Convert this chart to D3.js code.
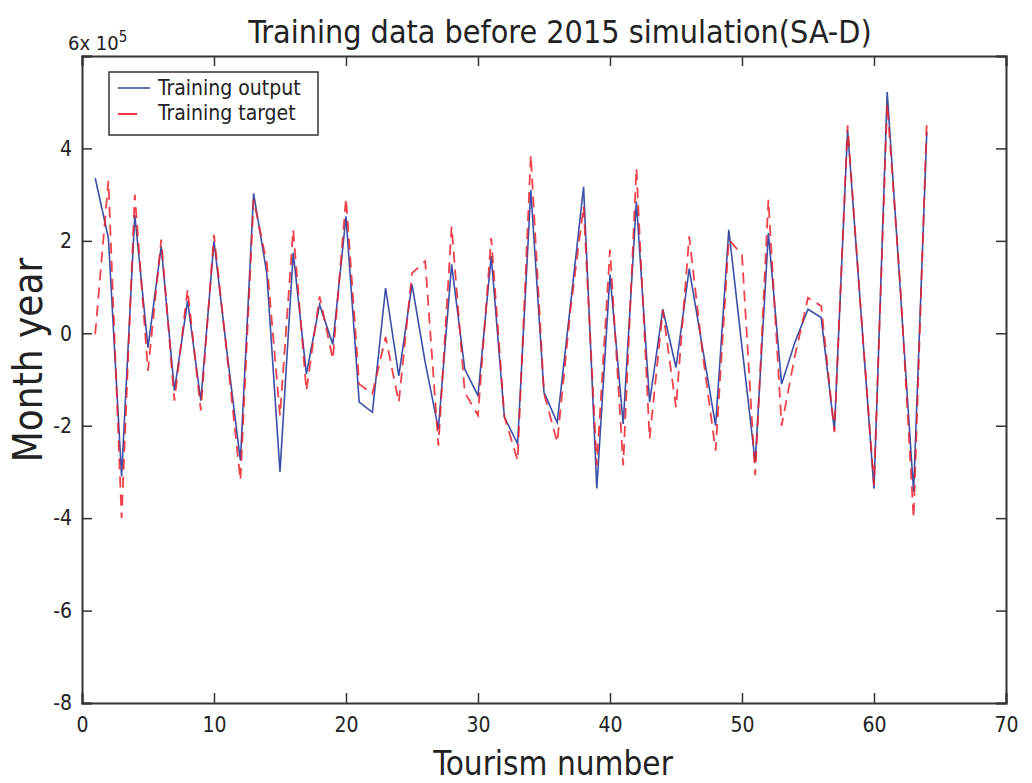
<!DOCTYPE html>
<html>
<head>
<meta charset="utf-8">
<script src="https://cdn.jsdelivr.net/npm/d3@7"></script>
<style>
  body { margin: 0; background: #fff; }
  svg text { font-family: "DejaVu Sans Condensed", "Liberation Sans Narrow", sans-serif; fill: #222; }
</style>
</head>
<body>
<script>
// Chart values (units of 10^5)
var sampleIndex = d3.range(1, 65);
var trainingOutput = [3.36, 2.06, -3.10, 2.56, -0.31, 1.88, -1.24, 0.70, -1.46, 1.99,
  -0.45, -2.75, 3.03, 1.30, -3.00, 1.74, -0.88, 0.62, -0.24, 2.53,
  -1.49, -1.71, 0.98, -0.92, 1.06, -0.63, -2.07, 1.49, -0.78, -1.35,
  1.67, -1.82, -2.39, 3.10, -1.28, -1.93, 0.60, 3.17, -3.36, 1.27,
  -1.96, 2.85, -1.49, 0.52, -0.74, 1.40, -0.30, -2.00, 2.24, -0.30,
  -2.79, 2.17, -1.10, -0.20, 0.52, 0.34, -2.10, 4.40, 0.50, -3.36,
  5.22, 0.90, -3.43, 4.36];
var trainingTarget = [-0.02, 3.30, -4.00, 3.00, -0.81, 2.03, -1.46, 0.95, -1.67, 2.13,
  -0.50, -3.18, 2.89, 1.52, -1.78, 2.24, -1.24, 0.80, -0.56, 2.92,
  -1.10, -1.31, -0.08, -1.49, 1.30, 1.56, -2.43, 2.31, -1.28, -1.78,
  2.06, -1.80, -2.75, 3.86, -1.30, -2.36, 0.50, 2.75, -2.86, 1.81,
  -2.86, 3.57, -2.28, 0.50, -1.60, 2.10, -0.40, -2.54, 2.03, 1.70,
  -3.07, 2.89, -2.00, -0.50, 0.77, 0.59, -2.14, 4.50, 0.50, -3.29,
  4.97, 1.00, -4.00, 4.60];
var xTicks = [0, 10, 20, 30, 40, 50, 60, 70];
var yTicks = [-8, -6, -4, -2, 0, 2, 4, 6];
var legendLabels = ["Training output", "Training target"];

var width = 1032, height = 783;
var margin = {left: 82, right: 26, top: 56, bottom: 80};

var svg = d3.select("body").append("svg")
    .attr("width", width)
    .attr("height", height);

var x = d3.scaleLinear().domain([0, 70]).range([margin.left, width - margin.right]);
var y = d3.scaleLinear().domain([-8, 6]).range([height - margin.bottom, margin.top]);

var tickLen = 10;

// Axes (ticks pointing inward, box style)
var bottomAxis = d3.axisBottom(x).tickValues(xTicks).tickSize(-tickLen).tickPadding(14).tickFormat(d3.format("d"));
var topAxis = d3.axisTop(x).tickValues(xTicks).tickSize(-tickLen).tickFormat("");
var leftAxis = d3.axisLeft(y).tickValues(yTicks).tickSize(-tickLen).tickPadding(10)
    .tickFormat(function(d) { return d === 6 ? "" : d; });
var rightAxis = d3.axisRight(y).tickValues(yTicks).tickSize(-tickLen).tickFormat("");

function styleAxis(g) {
  g.select(".domain").attr("stroke", "#333").attr("stroke-width", 2);
  g.selectAll(".tick line").attr("stroke", "#333").attr("stroke-width", 1.5);
  g.selectAll(".tick text").style("font-size", "21px").attr("fill", "#222");
}

svg.append("g").attr("transform", "translate(0," + y(-8) + ")").call(bottomAxis).call(styleAxis);
svg.append("g").attr("transform", "translate(0," + y(6) + ")").call(topAxis).call(styleAxis);
svg.append("g").attr("transform", "translate(" + x(0) + ",0)").call(leftAxis).call(styleAxis);
svg.append("g").attr("transform", "translate(" + x(70) + ",0)").call(rightAxis).call(styleAxis);

// Lines
var line = function(values) {
  return d3.line()
    .x(function(d, i) { return x(sampleIndex[i]); })
    .y(function(d) { return y(d); })(values);
};

svg.append("path")
    .attr("d", line(trainingOutput))
    .attr("fill", "none")
    .attr("stroke", "#3b4fa6")
    .attr("stroke-width", 1.6);

svg.append("path")
    .attr("d", line(trainingTarget))
    .attr("fill", "none")
    .attr("stroke", "#ec2029")
    .attr("stroke-opacity", 0.85)
    .attr("stroke-width", 1.8)
    .attr("stroke-dasharray", "11,7");

// Legend
var legend = svg.append("g");
legend.append("rect")
    .attr("x", 109).attr("y", 72)
    .attr("width", 209).attr("height", 63)
    .attr("fill", "#fff").attr("stroke", "#333").attr("stroke-width", 1.5);
legend.append("line")
    .attr("x1", 118).attr("x2", 150).attr("y1", 88).attr("y2", 88)
    .attr("stroke", "#3b4fa6").attr("stroke-width", 1.6);
legend.append("line")
    .attr("x1", 118).attr("x2", 137).attr("y1", 114).attr("y2", 114)
    .attr("stroke", "#ec2029").attr("stroke-width", 1.8);
legend.selectAll(".lg")
    .data(legendLabels)
    .enter().append("text")
    .attr("x", 158)
    .attr("y", function(d, i) { return 95 + i * 25; })
    .style("font-size", "21px")
    .text(function(d) { return d; });

// Exponent label
var expo = svg.append("text").attr("x", 68).attr("y", 50).style("font-size", "20px");
expo.append("tspan").text("6x 10");
expo.append("tspan").attr("dy", -8).style("font-size", "15px").text("5");

// Title and axis labels
svg.append("text")
    .attr("x", 560).attr("y", 43)
    .attr("text-anchor", "middle")
    .style("font-size", "32px")
    .text("Training data before 2015 simulation(SA-D)");

svg.append("text")
    .attr("x", 553).attr("y", 775)
    .attr("text-anchor", "middle")
    .style("font-size", "33px")
    .text("Tourism number");

svg.append("text")
    .attr("transform", "translate(42,360) rotate(-90)")
    .attr("text-anchor", "middle")
    .style("font-size", "40px")
    .text("Month year");
</script>
</body>
</html>
